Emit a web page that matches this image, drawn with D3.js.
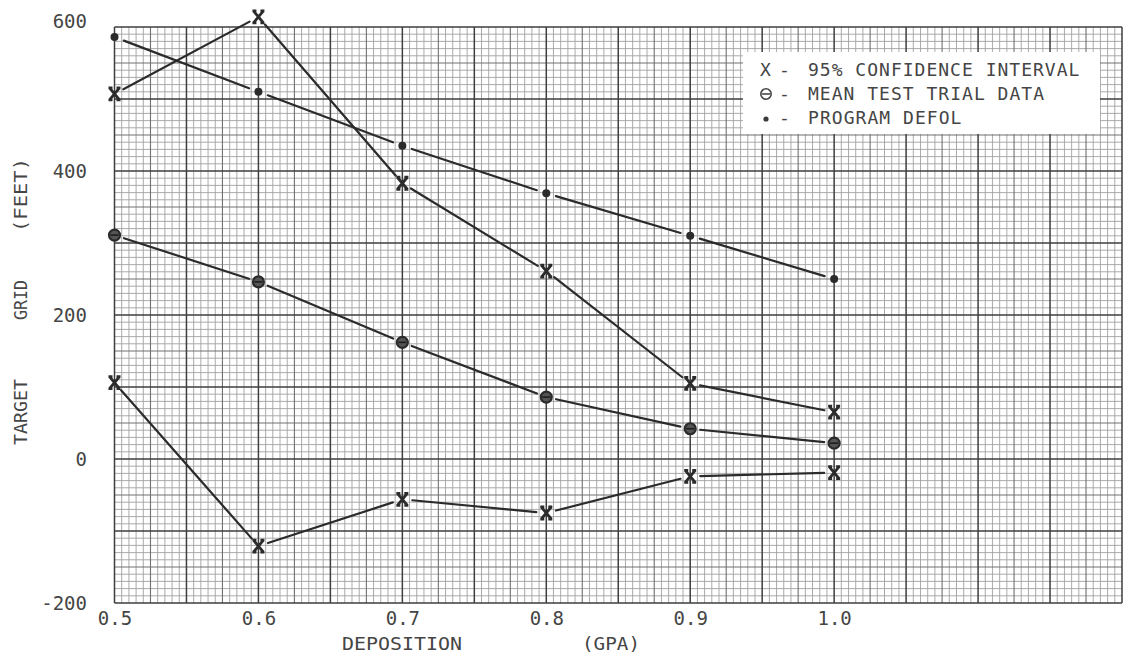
<!DOCTYPE html>
<html>
<head>
<meta charset="utf-8">
<script src="https://cdn.jsdelivr.net/npm/d3@7"></script>
<style>
  html, body { margin: 0; padding: 0; background: #fff; }
  svg { display: block; }
  text { font-family: "DejaVu Sans Mono", "Liberation Mono", monospace; fill: #454545; }
</style>
</head>
<body>
<svg id="chart" width="1130" height="656"></svg>
<script>
// Deposition (GPA) at which each series was evaluated
const deposition = [0.5, 0.6, 0.7, 0.8, 0.9, 1.0];

// Target grid distance in feet
const upperCI      = [507, 614, 383, 261, 105, 65];
const meanTrial    = [311, 246, 162, 86, 42, 22];
const lowerCI      = [106, -121, -56, -75, -24, -19];
const programDefol = [586, 510, 435, 369, 310, 250];

const xTickValues = [0.5, 0.6, 0.7, 0.8, 0.9, 1.0];
const xTickLabels = ["0.5", "0.6", "0.7", "0.8", "0.9", "1.0"];
const yTickValues = [-200, 0, 200, 400, 600];
const yTickLabels = ["-200", "0", "200", "400", "600"];

const legendRows = [
  { marker: "x",   text: "95% CONFIDENCE INTERVAL" },
  { marker: "o",   text: "MEAN TEST TRIAL DATA" },
  { marker: "dot", text: "PROGRAM DEFOL" }
];

const svg = d3.select("#chart");

const x = d3.scaleLinear().domain([0.5, 1.2]).range([114.5, 1122]);
const y = d3.scaleLinear().domain([-200, 600]).range([603, 27]);

// ---- graph paper ----
const grid = svg.append("g");
const xFine = d3.range(0, 141).map(i => ({ i, v: 0.5 + i * 0.005 }));
const yFine = d3.range(0, 81).map(i => ({ i, v: -200 + i * 10 }));
const weight = i => (i % 10 === 0 ? "heavy" : i % 5 === 0 ? "mid" : "fine");
const stroke = { fine: "#a2a2a2", mid: "#707070", heavy: "#3e3e3e" };
const width  = { fine: 0.9, mid: 1.1, heavy: 1.5 };

["fine", "mid", "heavy"].forEach(w => {
  grid.selectAll(null)
    .data(xFine.filter(d => weight(d.i) === w))
    .enter().append("line")
    .attr("x1", d => x(d.v)).attr("x2", d => x(d.v))
    .attr("y1", y(600)).attr("y2", y(-200))
    .attr("stroke", stroke[w]).attr("stroke-width", width[w]);
  grid.selectAll(null)
    .data(yFine.filter(d => weight(d.i) === w))
    .enter().append("line")
    .attr("y1", d => y(d.v)).attr("y2", d => y(d.v))
    .attr("x1", x(0.5)).attr("x2", x(1.2))
    .attr("stroke", stroke[w]).attr("stroke-width", width[w]);
});

// ---- legend panel (paper cleared behind the key) ----
const legend = svg.append("g");
legend.append("rect")
  .attr("x", 743).attr("y", 52).attr("width", 357).attr("height", 82)
  .attr("fill", "#fff");

// ---- tick labels ----
const xAxis = d3.axisBottom(x).tickValues(xTickValues)
  .tickFormat((d, i) => xTickLabels[i]).tickSize(0).tickPadding(0);
const gx = svg.append("g").attr("transform", `translate(0, ${y(-200) + 15})`).call(xAxis);
gx.select(".domain").remove();
gx.selectAll("text").attr("font-size", 19).attr("dy", "0.36em")
  .style("font-family", "DejaVu Sans Mono").attr("fill", "#4a4a4a");

const yAxis = d3.axisLeft(y).tickValues(yTickValues)
  .tickFormat((d, i) => yTickLabels[i]).tickSize(0).tickPadding(0);
const gy = svg.append("g").attr("transform", "translate(87, 0)").call(yAxis);
gy.select(".domain").remove();
gy.selectAll("text").attr("font-size", 19).attr("dy", d => d === 600 ? "0em" : "0.36em")
  .style("font-family", "DejaVu Sans Mono").attr("fill", "#4a4a4a");

// ---- axis titles ----
const titleStyle = sel => sel.attr("font-size", 17).attr("fill", "#404040")
  .attr("lengthAdjust", "spacingAndGlyphs");
svg.append("text").attr("x", 342).attr("y", 650).text("DEPOSITION")
  .call(titleStyle).attr("textLength", 120);
svg.append("text").attr("x", 582).attr("y", 650).text("(GPA)")
  .call(titleStyle).attr("textLength", 58);

const yTitle = svg.append("g").attr("transform", "translate(27, 0) rotate(-90)");
[["TARGET", 412, 66], ["GRID", 300, 40], ["(FEET)", 195, 74]].forEach(([t, c, len]) => {
  yTitle.append("text").attr("x", -c).attr("y", 0).attr("text-anchor", "middle")
    .text(t).call(titleStyle).attr("textLength", len);
});

// ---- data series ----
const series = [
  { values: upperCI,      marker: "x" },
  { values: meanTrial,    marker: "o" },
  { values: lowerCI,      marker: "x" },
  { values: programDefol, marker: "dot" }
];

const ink = "#2b2b2b";
const gap = 10;
const plot = svg.append("g");

series.forEach(s => {
  const pts = deposition.map((d, i) => [x(d), y(s.values[i])]);
  const segs = d3.pairs(pts).map(([a, b]) => {
    const dx = b[0] - a[0], dy = b[1] - a[1];
    const L = Math.hypot(dx, dy);
    const ux = dx / L, uy = dy / L;
    return [a[0] + ux * gap, a[1] + uy * gap, b[0] - ux * gap, b[1] - uy * gap];
  });
  plot.selectAll(null).data(segs).enter().append("line")
    .attr("x1", d => d[0]).attr("y1", d => d[1])
    .attr("x2", d => d[2]).attr("y2", d => d[3])
    .attr("stroke", ink).attr("stroke-width", 2.2).attr("stroke-linecap", "round");
  pts.forEach(p => drawMarker(plot, s.marker, p[0], p[1]));
});

function drawMarker(g, kind, cx, cy) {
  if (kind === "x") {
    const h = 6, w = 5, s = 3;
    g.append("path")
      .attr("d", `M${cx - w},${cy - h}L${cx + w},${cy + h}M${cx + w},${cy - h}L${cx - w},${cy + h}` +
                 `M${cx - w - 1},${cy - h}L${cx - w + s},${cy - h}M${cx + w + 1},${cy - h}L${cx + w - s},${cy - h}` +
                 `M${cx - w - 1},${cy + h}L${cx - w + s},${cy + h}M${cx + w + 1},${cy + h}L${cx + w - s},${cy + h}`)
      .attr("stroke", ink).attr("stroke-width", 2.8).attr("fill", "none");
  } else if (kind === "o") {
    g.append("circle").attr("cx", cx).attr("cy", cy).attr("r", 5.5)
      .attr("fill", "#555").attr("stroke", ink).attr("stroke-width", 2.2);
    g.append("line").attr("x1", cx - 4).attr("x2", cx + 4).attr("y1", cy).attr("y2", cy)
      .attr("stroke", "#1e1e1e").attr("stroke-width", 1.6);
  } else {
    g.append("circle").attr("cx", cx).attr("cy", cy).attr("r", 4).attr("fill", ink);
  }
}

// ---- legend entries ----
legendRows.forEach((r, i) => {
  const cy = 70 + i * 24;
  if (r.marker === "x") {
    legend.append("text").attr("x", 760).attr("y", cy).attr("dy", "0.36em")
      .attr("font-size", 18).text("X");
  } else if (r.marker === "o") {
    legend.append("circle").attr("cx", 766).attr("cy", cy).attr("r", 5.2)
      .attr("fill", "none").attr("stroke", "#454545").attr("stroke-width", 1.6);
    legend.append("line").attr("x1", 762).attr("x2", 770).attr("y1", cy).attr("y2", cy)
      .attr("stroke", "#454545").attr("stroke-width", 1.6);
  } else {
    legend.append("circle").attr("cx", 766).attr("cy", cy + 1).attr("r", 2.6).attr("fill", "#3a3a3a");
  }
  legend.append("text").attr("x", 779).attr("y", cy).attr("dy", "0.36em")
    .attr("font-size", 18).text("-");
  legend.append("text").attr("x", 808).attr("y", cy).attr("dy", "0.36em")
    .attr("font-size", 18).attr("lengthAdjust", "spacing")
    .attr("textLength", r.text.length * 11.8).text(r.text);
});
</script>
</body>
</html>
